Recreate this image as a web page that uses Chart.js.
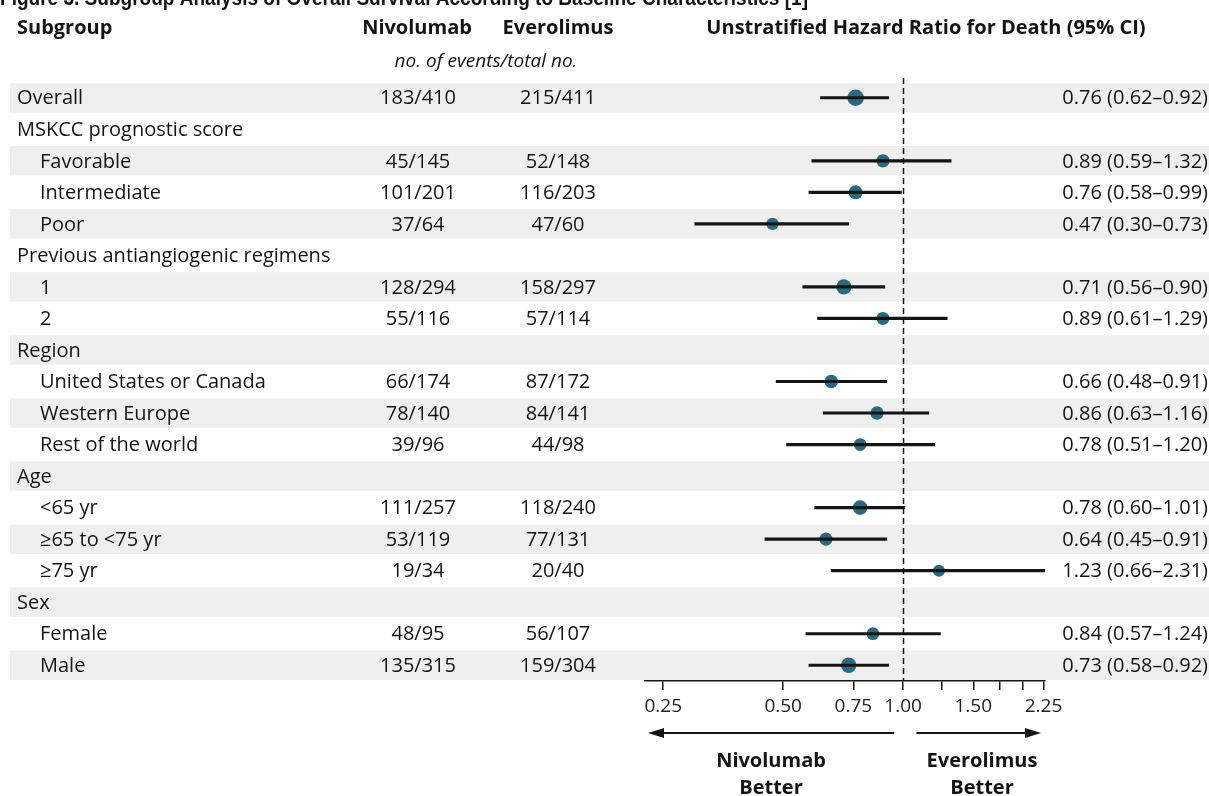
<!DOCTYPE html>
<html>
<head>
<meta charset="utf-8">
<script src="https://cdn.jsdelivr.net/npm/chart.js@4.4.0/dist/chart.umd.min.js"></script>
<style>
  html, body { margin: 0; padding: 0; background: #fff; }
  #wrap { width: 1209px; height: 796px; }
</style>
</head>
<body>
<div id="wrap"><canvas id="forest" width="1209" height="796"></canvas></div>
<script>
// rows of the table, top to bottom
const rowLabels = ['Overall', 'MSKCC prognostic score', 'Favorable', 'Intermediate', 'Poor',
  'Previous antiangiogenic regimens', '1', '2', 'Region', 'United States or Canada',
  'Western Europe', 'Rest of the world', 'Age', '<65 yr', '\u226565 to <75 yr', '\u226575 yr',
  'Sex', 'Female', 'Male'];
const rowIndent = [0, 0, 1, 1, 1, 0, 1, 1, 0, 1, 1, 1, 0, 1, 1, 1, 0, 1, 1];

const nivoEvents  = [183, null, 45, 101, 37, null, 128, 55, null, 66, 78, 39, null, 111, 53, 19, null, 48, 135];
const nivoTotal   = [410, null, 145, 201, 64, null, 294, 116, null, 174, 140, 96, null, 257, 119, 34, null, 95, 315];
const everoEvents = [215, null, 52, 116, 47, null, 158, 57, null, 87, 84, 44, null, 118, 77, 20, null, 56, 159];
const everoTotal  = [411, null, 148, 203, 60, null, 297, 114, null, 172, 141, 98, null, 240, 131, 40, null, 107, 304];

const hazardRatio = [0.76, null, 0.89, 0.76, 0.47, null, 0.71, 0.89, null, 0.66, 0.86, 0.78, null, 0.78, 0.64, 1.23, null, 0.84, 0.73];
const ciLow       = [0.62, null, 0.59, 0.58, 0.30, null, 0.56, 0.61, null, 0.48, 0.63, 0.51, null, 0.60, 0.45, 0.66, null, 0.57, 0.58];
const ciHigh      = [0.92, null, 1.32, 0.99, 0.73, null, 0.90, 1.29, null, 0.91, 1.16, 1.20, null, 1.01, 0.91, 2.31, null, 1.24, 0.92];

const tickValues = [0.25, 0.5, 0.75, 1, 1.25, 1.5, 1.75, 2, 2.25];
const tickLabels = ['0.25', '0.50', '0.75', '1.00', '', '1.50', '', '', '2.25'];

const FONT = '"Open Sans", "Noto Sans", sans-serif';
const INK = '#141414';

const fmt = v => v.toFixed(2);

const tablePlugin = {
  id: 'table',
  beforeDraw(chart) {
    const ctx = chart.ctx;
    const ys = chart.scales.y;
    const rowH = ys.height / rowLabels.length;
    ctx.save();
    ctx.fillStyle = '#fff';
    ctx.fillRect(0, 0, chart.width, chart.height);
    // alternating grey bands
    ctx.fillStyle = '#efefef';
    rowLabels.forEach((lab, i) => {
      if (i % 2 === 0) {
        const yc = ys.getPixelForValue(i);
        ctx.fillRect(10, yc - rowH / 2 + 1, chart.width - 10, rowH - 2);
      }
    });
    ctx.restore();
  },
  beforeDatasetsDraw(chart) {
    const ctx = chart.ctx;
    const xs = chart.scales.x;
    const x1 = Math.round(xs.getPixelForValue(1)) + 0.5;
    ctx.save();
    ctx.strokeStyle = INK;
    ctx.lineWidth = 1.5;
    ctx.setLineDash([6, 4]);
    ctx.beginPath();
    ctx.moveTo(x1, chart.chartArea.top - 4);
    ctx.lineTo(x1, chart.chartArea.bottom);
    ctx.stroke();
    ctx.restore();
  },
  afterDraw(chart) {
    const ctx = chart.ctx;
    const ys = chart.scales.y;
    const xs = chart.scales.x;
    ctx.save();
    ctx.fillStyle = INK;

    // figure title, cut off by the top edge
    ctx.font = 'bold 22px "Liberation Sans", Arial, sans-serif';
    ctx.textAlign = 'left';
    ctx.textBaseline = 'alphabetic';
    ctx.fillText('Figure 3. Subgroup Analysis of Overall Survival According to Baseline Characteristics [1]', 0, 5, 808);
    ctx.textBaseline = 'middle';

    // headers
    ctx.font = 'bold 20px ' + FONT;
    ctx.textAlign = 'left';
    ctx.fillText('Subgroup', 17, 28);
    ctx.textAlign = 'center';
    ctx.fillText('Nivolumab', 417, 28);
    ctx.fillText('Everolimus', 558, 28);
    ctx.fillText('Unstratified Hazard Ratio for Death (95% CI)', 926, 28);
    ctx.font = 'italic 19px ' + FONT;
    ctx.fillText('no. of events/total no.', 486, 62);

    // rows
    ctx.font = '20px ' + FONT;
    rowLabels.forEach((lab, i) => {
      const y = ys.getPixelForValue(i) + 1;
      ctx.textAlign = 'left';
      ctx.fillText(lab, rowIndent[i] ? 40 : 17, y);
      if (nivoTotal[i] != null) {
        ctx.textAlign = 'center';
        ctx.fillText(nivoEvents[i] + '/' + nivoTotal[i], 418, y);
        ctx.fillText(everoEvents[i] + '/' + everoTotal[i], 558, y);
      }
      if (hazardRatio[i] != null) {
        ctx.textAlign = 'right';
        ctx.fillText(fmt(hazardRatio[i]) + ' (' + fmt(ciLow[i]) + '\u2013' + fmt(ciHigh[i]) + ')', 1208, y);
      }
    });

    // direction arrows
    const ay = 733;
    const drawArrow = (from, to) => {
      const dir = Math.sign(to - from);
      ctx.strokeStyle = INK;
      ctx.lineWidth = 2;
      ctx.beginPath();
      ctx.moveTo(from, ay);
      ctx.lineTo(to - dir * 10, ay);
      ctx.stroke();
      ctx.beginPath();
      ctx.moveTo(to, ay);
      ctx.lineTo(to - dir * 16, ay - 5);
      ctx.lineTo(to - dir * 16, ay + 5);
      ctx.closePath();
      ctx.fill();
    };
    drawArrow(xs.getPixelForValue(0.95), xs.left + 3);
    drawArrow(xs.getPixelForValue(1.08), xs.right - 4);

    ctx.font = 'bold 20px ' + FONT;
    ctx.textAlign = 'center';
    ctx.fillText('Nivolumab', 771, 761);
    ctx.fillText('Better', 771, 788);
    ctx.fillText('Everolimus', 982, 761);
    ctx.fillText('Better', 982, 788);
    ctx.restore();
  }
};

const pointSizes = nivoTotal.map((t, i) => t == null ? 0 : 5.8 + (t + everoTotal[i]) / 330);

new Chart(document.getElementById('forest'), {
  type: 'bar',
  data: {
    labels: rowLabels,
    datasets: [
      {
        type: 'bar',
        data: ciLow.map((lo, i) => lo == null ? null : [lo, ciHigh[i]]),
        backgroundColor: INK,
        borderWidth: 0,
        barThickness: 2.5
      },
      {
        type: 'line',
        data: hazardRatio,
        showLine: false,
        pointRadius: pointSizes,
        pointBackgroundColor: '#2a6a80',
        pointBorderWidth: 0
      }
    ]
  },
  plugins: [tablePlugin],
  options: {
    indexAxis: 'y',
    responsive: false,
    animation: false,
    devicePixelRatio: 1,
    layout: { padding: { left: 645, right: 164, top: 82, bottom: 0 } },
    plugins: { legend: { display: false }, tooltip: { enabled: false } },
    scales: {
      y: { type: 'category', display: false, offset: true },
      x: {
        type: 'logarithmic',
        min: 0.225,
        max: 2.27,
        afterBuildTicks: scale => { scale.ticks = tickValues.map(v => ({ value: v })); },
        afterFit: scale => { scale.height = 115; },
        border: { display: true, color: INK, width: 1.5 },
        grid: { drawOnChartArea: false, drawTicks: true, tickLength: 9, color: INK, lineWidth: 1.5 },
        ticks: {
          autoSkip: false,
          maxRotation: 0,
          padding: 5,
          color: '#222',
          font: { family: FONT, size: 19 },
          callback: v => tickLabels[tickValues.indexOf(v)]
        }
      }
    }
  }
});
</script>
</body>
</html>
